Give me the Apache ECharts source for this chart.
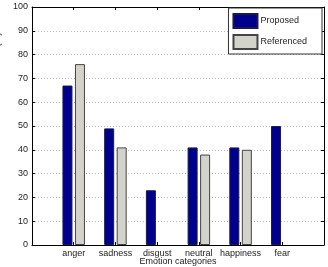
<!DOCTYPE html>
<html>
<head>
<meta charset="utf-8">
<script src="https://cdn.jsdelivr.net/npm/echarts@6/dist/echarts.min.js"></script>
<style>
  html, body { margin: 0; padding: 0; background: #fff; }
  #chart { width: 328px; height: 267px; }
</style>
</head>
<body>
<div id="chart"></div>
<script>
  var categories = ['anger', 'sadness', 'disgust', 'neutral', 'happiness', 'fear']
  var proposed = [67, 49, 23, 41, 41, 50]
  var referenced = [76, 41, null, 38, 40, null]
  var yTicks = [0, 10, 20, 30, 40, 50, 60, 70, 80, 90, 100]

  var textColor = '#222'
  var font = 'Liberation Sans, Arial, sans-serif'

  // categories sit at x = 1..6 on a 0..7 axis, like the original plot
  function toPoints(values) {
    return values.map(function (v, i) {
      return [i + 1, v == null ? '-' : v]
    })
  }

  function frameLine() {
    return { show: true, onZero: false, lineStyle: { color: '#000', width: 1 } }
  }
  function tickStyle() {
    return { show: true, inside: true, length: 3, lineStyle: { color: '#000' } }
  }

  var chart = echarts.init(document.getElementById('chart'))
  chart.setOption({
    animation: false,
    textStyle: { fontFamily: font, color: textColor, fontSize: 9 },
    grid: { left: 32, right: 4, top: 7, bottom: 22, containLabel: false, outerBoundsMode: 'none' },
    legend: {
      orient: 'vertical',
      right: 6,
      top: 8,
      itemWidth: 24,
      itemHeight: 14,
      itemGap: 5,
      padding: [5, 15, 4, 4],
      borderColor: '#333',
      borderWidth: 1,
      backgroundColor: '#fff',
      icon: 'rect',
      textStyle: { fontSize: 9, color: textColor, fontFamily: font, padding: [0, 0, 0, -2] },
      data: ['Proposed', 'Referenced']
    },
    xAxis: [
      {
        type: 'value',
        min: 0,
        max: categories.length + 1,
        interval: 1,
        name: 'Emotion categories',
        nameLocation: 'middle',
        nameGap: 12,
        nameMoveOverlap: false,
        nameTextStyle: { fontSize: 9, color: textColor },
        axisLine: frameLine(),
        axisTick: tickStyle(),
        axisLabel: {
          fontSize: 9,
          color: textColor,
          margin: 4,
          formatter: function (v) {
            return categories[v - 1] || ''
          }
        },
        splitLine: { show: false }
      },
      {
        type: 'value',
        min: 0,
        max: categories.length + 1,
        interval: 1,
        position: 'top',
        axisLine: frameLine(),
        axisTick: tickStyle(),
        axisLabel: { show: false },
        splitLine: { show: false }
      }
    ],
    yAxis: [
      {
        type: 'value',
        min: yTicks[0],
        max: yTicks[yTicks.length - 1],
        interval: 10,
        name: 'Decision\u2212level emotion classification recall (%)',
        nameLocation: 'middle',
        // name is pushed past the tick labels, so the gap is negative
        nameGap: -6,
        nameTextStyle: { fontSize: 9, color: textColor },
        axisLine: frameLine(),
        axisTick: tickStyle(),
        axisLabel: { show: true, fontSize: 9, color: textColor, margin: 4 },
        splitLine: { show: true, lineStyle: { color: '#bbb', type: [1, 2], width: 1 } }
      },
      {
        type: 'value',
        min: yTicks[0],
        max: yTicks[yTicks.length - 1],
        interval: 10,
        position: 'right',
        axisLine: frameLine(),
        axisTick: tickStyle(),
        axisLabel: { show: false },
        splitLine: { show: false }
      }
    ],
    series: [
      {
        name: 'Proposed',
        type: 'bar',
        data: toPoints(proposed),
        barWidth: 10,
        barGap: '25%',
        itemStyle: { color: '#00008f', borderColor: '#1a1a4a', borderWidth: 1 }
      },
      {
        name: 'Referenced',
        type: 'bar',
        data: toPoints(referenced),
        barWidth: 10,
        barGap: '25%',
        itemStyle: { color: '#d3d3cb', borderColor: '#444', borderWidth: 1 }
      }
    ]
  })
</script>
</body>
</html>
